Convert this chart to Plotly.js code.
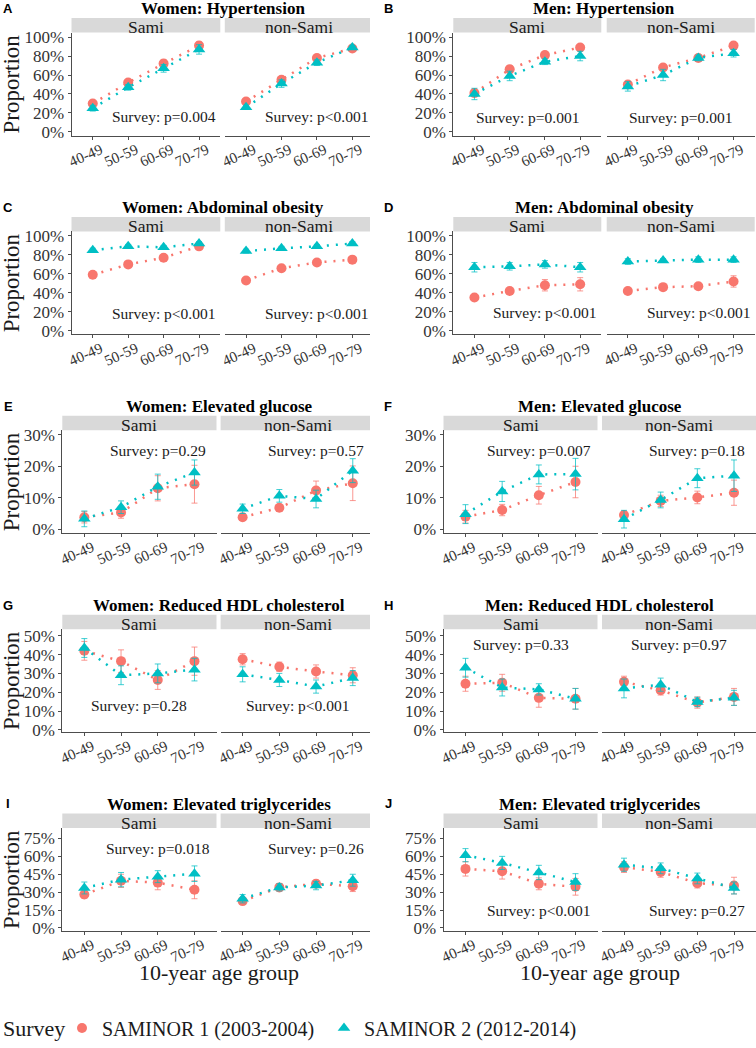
<!DOCTYPE html>
<html><head><meta charset="utf-8">
<script src="https://cdn.plot.ly/plotly-3.0.1.min.js"></script>
<style>html,body{margin:0;padding:0;background:#fff}</style>
</head><body><div id="chart" style="width:756px;height:1048px"></div>
<script>
// ---------------- DATA ----------------
const ageGroups = ['40-49', '50-59', '60-69', '70-79'];
const facetNames = ['Sami', 'non-Sami'];
const surveyNames = ['SAMINOR 1 (2003-2004)', 'SAMINOR 2 (2012-2014)'];
const legendTitle = 'Survey';
const xTitle = '10-year age group';
const yTitle = 'Proportion';
const panelLetters = ['A', 'B', 'C', 'D', 'E', 'F', 'G', 'H', 'I', 'J'];
const panelTitles = ['Women: Hypertension', 'Men: Hypertension', 'Women: Abdominal obesity', 'Men: Abdominal obesity',
  'Women: Elevated glucose', 'Men: Elevated glucose', 'Women: Reduced HDL cholesterol', 'Men: Reduced HDL cholesterol',
  'Women: Elevated triglycerides', 'Men: Elevated triglycerides'];
const pSami = ['p=0.004', 'p=0.001', 'p<0.001', 'p<0.001', 'p=0.29', 'p=0.007', 'p=0.28', 'p=0.33', 'p=0.018', 'p<0.001'];
const pNonSami = ['p<0.001', 'p=0.001', 'p<0.001', 'p<0.001', 'p=0.57', 'p=0.18', 'p<0.001', 'p=0.97', 'p=0.26', 'p=0.27'];
const ticks100 = [0, 20, 40, 60, 80, 100];
const ticks30 = [0, 10, 20, 30];
const ticks50 = [0, 10, 20, 30, 40, 50];
const ticks75 = [0, 15, 30, 45, 60, 75];

// A  Women: Hypertension (%)
const A_sami_s1 = [30, 52, 72, 91], A_sami_s1_err = [3, 3, 4, 4];
const A_sami_s2 = [25, 47, 67, 87], A_sami_s2_err = [3, 3, 4, 5];
const A_non_s1 = [32, 55, 78, 88], A_non_s1_err = [2, 2, 2, 3];
const A_non_s2 = [26, 51, 73, 89], A_non_s2_err = [2, 4, 3, 2];
// B  Men: Hypertension
const B_sami_s1 = [41, 66, 81, 89], B_sami_s1_err = [4, 4, 3, 3];
const B_sami_s2 = [40, 59, 74, 80], B_sami_s2_err = [6, 5, 3, 5];
const B_non_s1 = [50, 68, 78, 91], B_non_s1_err = [2, 2, 2, 2];
const B_non_s2 = [48, 60, 78, 83], B_non_s2_err = [5, 6, 3, 4];
// C  Women: Abdominal obesity
const C_sami_s1 = [59, 70, 77, 89], C_sami_s1_err = [3, 3, 3, 3];
const C_sami_s2 = [85, 89, 88, 92], C_sami_s2_err = [2, 2, 2, 2];
const C_non_s1 = [53, 66, 72, 75], C_non_s1_err = [2, 2, 2, 3];
const C_non_s2 = [84, 87, 89, 92], C_non_s2_err = [2, 2, 2, 2];
// D  Men: Abdominal obesity
const D_sami_s1 = [35, 42, 48, 49], D_sami_s1_err = [3, 3, 6, 7];
const D_sami_s2 = [67, 68, 70, 67], D_sami_s2_err = [5, 4, 4, 5];
const D_non_s1 = [42, 46, 47, 52], D_non_s1_err = [2, 2, 2, 6];
const D_non_s2 = [73, 74, 75, 75], D_non_s2_err = [3, 2, 3, 3];
// E  Women: Elevated glucose
const E_sami_s1 = [3.8, 5.3, 13, 14.3], E_sami_s1_err = [1.8, 1.8, 4, 6];
const E_sami_s2 = [3.3, 7, 13.5, 18], E_sami_s2_err = [2.5, 2, 4, 4];
const E_non_s1 = [3.8, 6.8, 12.3, 14.6], E_non_s1_err = [1, 1, 3, 5.5];
const E_non_s2 = [6.5, 10.6, 9.6, 18.6], E_non_s2_err = [1.5, 2, 2.8, 3.8];
// F  Men: Elevated glucose
const F_sami_s1 = [4, 6.1, 10.8, 15], F_sami_s1_err = [2, 1.8, 2.8, 5];
const F_sami_s2 = [4.8, 12, 17.4, 17.5], F_sami_s2_err = [3, 3.2, 3, 5];
const F_non_s1 = [4.5, 9, 10.1, 11.6], F_non_s1_err = [1.2, 1.8, 2, 4];
const F_non_s2 = [3.2, 9.3, 16.2, 17], F_non_s2_err = [2.8, 2.5, 3, 5];
// G  Women: Reduced HDL cholesterol
const G_sami_s1 = [42, 36.5, 26.5, 36.5], G_sami_s1_err = [5, 6, 5, 7.5];
const G_sami_s2 = [43.5, 29, 30, 32], G_sami_s2_err = [5, 5, 5, 6];
const G_non_s1 = [37.5, 33.5, 31, 29], G_non_s1_err = [3, 2.5, 3.5, 4];
const G_non_s2 = [29.5, 26.5, 23, 27.5], G_non_s2_err = [4, 3.5, 3.5, 4];
// H  Men: Reduced HDL cholesterol
const H_sami_s1 = [24.5, 25, 17, 16.5], H_sami_s1_err = [4, 4.5, 5, 5.5];
const H_sami_s2 = [33, 22.5, 21.5, 16.5], H_sami_s2_err = [5, 4.5, 3, 5.5];
const H_non_s1 = [25.5, 21, 14.5, 17.5], H_non_s1_err = [3, 2.5, 3, 4.5];
const H_non_s2 = [22, 24, 14.8, 17], H_non_s2_err = [5, 3.5, 2.5, 4];
// I  Women: Elevated triglycerides
const I_sami_s1 = [28, 39.5, 38, 32], I_sami_s1_err = [3, 5.5, 6, 7.5];
const I_sami_s2 = [33.5, 40.5, 43, 45.5], I_sami_s2_err = [5, 6, 5, 6.5];
const I_non_s1 = [22.5, 34, 37, 35], I_non_s1_err = [2.5, 3, 3, 4.5];
const I_non_s2 = [24.5, 34, 35.5, 40], I_non_s2_err = [3.5, 3, 3.5, 5];
// J  Men: Elevated triglycerides
const J_sami_s1 = [49.5, 47.5, 37, 34.5], J_sami_s1_err = [6, 6.5, 5, 7];
const J_sami_s2 = [61, 54.5, 46.5, 38.5], J_sami_s2_err = [5.5, 5.5, 6, 7];
const J_non_s1 = [51, 47, 37.5, 35.5], J_non_s1_err = [4.5, 4.5, 4, 7];
const J_non_s2 = [53, 50, 41.5, 33.5], J_non_s2_err = [5.5, 4.5, 4.5, 5];

const panelData = [
  [[A_sami_s1, A_sami_s1_err, A_sami_s2, A_sami_s2_err], [A_non_s1, A_non_s1_err, A_non_s2, A_non_s2_err]],
  [[B_sami_s1, B_sami_s1_err, B_sami_s2, B_sami_s2_err], [B_non_s1, B_non_s1_err, B_non_s2, B_non_s2_err]],
  [[C_sami_s1, C_sami_s1_err, C_sami_s2, C_sami_s2_err], [C_non_s1, C_non_s1_err, C_non_s2, C_non_s2_err]],
  [[D_sami_s1, D_sami_s1_err, D_sami_s2, D_sami_s2_err], [D_non_s1, D_non_s1_err, D_non_s2, D_non_s2_err]],
  [[E_sami_s1, E_sami_s1_err, E_sami_s2, E_sami_s2_err], [E_non_s1, E_non_s1_err, E_non_s2, E_non_s2_err]],
  [[F_sami_s1, F_sami_s1_err, F_sami_s2, F_sami_s2_err], [F_non_s1, F_non_s1_err, F_non_s2, F_non_s2_err]],
  [[G_sami_s1, G_sami_s1_err, G_sami_s2, G_sami_s2_err], [G_non_s1, G_non_s1_err, G_non_s2, G_non_s2_err]],
  [[H_sami_s1, H_sami_s1_err, H_sami_s2, H_sami_s2_err], [H_non_s1, H_non_s1_err, H_non_s2, H_non_s2_err]],
  [[I_sami_s1, I_sami_s1_err, I_sami_s2, I_sami_s2_err], [I_non_s1, I_non_s1_err, I_non_s2, I_non_s2_err]],
  [[J_sami_s1, J_sami_s1_err, J_sami_s2, J_sami_s2_err], [J_non_s1, J_non_s1_err, J_non_s2, J_non_s2_err]]
];
const panelTicks = [ticks100, ticks100, ticks100, ticks100, ticks30, ticks30, ticks50, ticks50, ticks75, ticks75];

// ---------------- STYLE / GEOMETRY ----------------
const W = 756, H = 1048;
const SERIF = '"Liberation Serif", "DejaVu Serif", serif';
const SANS = '"Liberation Sans", Arial, sans-serif';
const COLORS = ['#F8766D', '#00BFC4'];
const ERRCOLORS = ['rgba(248,118,109,0.75)', 'rgba(0,191,196,0.75)'];
const SYMBOLS = ['circle', 'triangle-up'];
const SIZES = [10, 11];
const AXCOL = '#4d4d4d';
const px = x => x / W;
const py = y => 1 - y / H;

const colGeom = {
  L1: { s: [71.5, 220.3], n0: 224.8, clip: 370 },
  L2: { s: [62.3, 216.5], n0: 220.6, clip: 370 },
  R1: { s: [453.3, 601.3], n0: 606.7, clip: 754.7 },
  R2: { s: [443.5, 597.5], n0: 602, clip: 756 }
};
const panelCol = ['L1', 'R1', 'L1', 'R1', 'L2', 'R2', 'L2', 'R2', 'L2', 'R2'];
const panelYRange = [[-3.8, 104.7], [-3.8, 104.7], [-3.8, 104.7], [-3.8, 104.7],
  [-1.26, 31.4], [-1.26, 31.4], [-1.2, 53.5], [-1.2, 53.5], [-2.5, 83.75], [-2.5, 83.75]];
const pLabelPos = [[2, 16], [1.5, 15], [2, 18], [2, 19], [2, 25], [2, 25], [1.5, 13], [1.5, 45.5], [2, 66.7], [2, 14.4]];

const traces = [];
const layout = {
  width: W, height: H, autosize: false,
  margin: { l: 0, r: 0, t: 0, b: 0 },
  paper_bgcolor: '#fff', plot_bgcolor: '#fff',
  font: { family: SERIF, color: '#1a1a1a' },
  showlegend: true,
  legend: {
    orientation: 'h', x: px(62), xanchor: 'left', y: py(1034), yanchor: 'middle',
    font: { family: SERIF, size: 20, color: '#1a1a1a' },
    bgcolor: 'rgba(0,0,0,0)', borderwidth: 0, itemwidth: 30, tracegroupgap: 0,
    entrywidth: 217, entrywidthmode: 'pixels'
  },
  shapes: [], annotations: []
};

layout.annotations.push({
  xref: 'paper', yref: 'paper', x: px(0.5), y: py(1034), text: legendTitle, showarrow: false,
  xanchor: 'left', yanchor: 'middle', font: { family: SERIF, size: 22, color: '#1a1a1a' }
});

for (let p = 0; p < 10; p++) {
  const row = Math.floor(p / 2);
  const g = colGeom[panelCol[p]];
  const unit = (g.s[1] - g.s[0]) / 4.2;
  const fw = g.s[1] - g.s[0];
  const top = 32.8 + 200 * row, bottom = 136.3 + 200 * row, stripTop = 18.2 + 200 * row;
  const facetX = [[g.s[0], g.s[1]], [g.n0, g.clip]];
  for (let f = 0; f < 2; f++) {
    const k = p * 2 + f + 1;
    const xa = k === 1 ? 'x' : 'x' + k;
    const ya = k === 1 ? 'y' : 'y' + k;
    const [x0, x1] = facetX[f];
    layout['xaxis' + (k === 1 ? '' : k)] = {
      domain: [px(x0), px(x1)], anchor: ya, type: 'category',
      categoryorder: 'array', categoryarray: ageGroups,
      range: [-0.6, -0.6 + (x1 - x0) / unit],
      showline: true, linecolor: AXCOL, linewidth: 1, mirror: false,
      ticks: 'outside', ticklen: 3, tickcolor: AXCOL, tickwidth: 1,
      showgrid: false, zeroline: false, tickangle: -24, ticklabelstandoff: -4, ticklabelshift: 8,
      tickfont: { family: SERIF, size: 15, color: '#333' }, fixedrange: true
    };
    layout['yaxis' + (k === 1 ? '' : k)] = {
      domain: [py(bottom), py(top)], anchor: xa,
      range: panelYRange[p], tickmode: 'array', tickvals: panelTicks[p],
      ticktext: panelTicks[p].map(v => v + '%'),
      showline: f === 0, linecolor: AXCOL, linewidth: 1,
      ticks: f === 0 ? 'outside' : '', ticklen: 3, tickcolor: AXCOL, tickwidth: 1,
      showticklabels: f === 0, showgrid: false, zeroline: false,
      tickfont: { family: SERIF, size: 17, color: '#333' }, fixedrange: true
    };
    // strip
    layout.shapes.push({
      type: 'rect', xref: 'paper', yref: 'paper',
      x0: px(x0), x1: px(x1), y0: py(top), y1: py(stripTop),
      fillcolor: '#D9D9D9', line: { width: 0 }, layer: 'below'
    });
    layout.annotations.push({
      xref: 'paper', yref: 'paper', x: px(x0 + fw / 2), y: py(27.6 + 200 * row),
      text: facetNames[f], showarrow: false, xanchor: 'center', yanchor: 'middle',
      font: { family: SERIF, size: 17.5, color: '#1a1a1a' }
    });
    // p-value label
    layout.annotations.push({
      xref: xa, yref: ya, x: pLabelPos[p][0], y: pLabelPos[p][1],
      text: 'Survey: ' + (f === 0 ? pSami[p] : pNonSami[p]), showarrow: false,
      xanchor: 'center', yanchor: 'middle', font: { family: SERIF, size: 15.5, color: '#1a1a1a' }
    });
    // series
    const d = panelData[p][f];
    for (let s = 0; s < 2; s++) {
      traces.push({
        type: 'scatter', mode: 'lines+markers', xaxis: xa, yaxis: ya,
        x: ageGroups, y: d[s * 2], name: surveyNames[s], showlegend: false,
        line: { color: COLORS[s], width: 2.5, dash: '2px,7px' },
        marker: { color: COLORS[s], symbol: SYMBOLS[s], size: SIZES[s], line: { width: 0 } },
        error_y: { type: 'data', array: d[s * 2 + 1], visible: true, color: ERRCOLORS[s], thickness: 1, width: 3 },
        cliponaxis: false, hoverinfo: 'skip'
      });
    }
  }
  // panel title and letter
  const leftEdge = g.s[0];
  const rightEdge = g.n0 + fw;
  layout.annotations.push({
    xref: 'paper', yref: 'paper', x: px((leftEdge + rightEdge) / 2), y: py(9 + 200 * row),
    text: '<b>' + panelTitles[p] + '</b>', showarrow: false, xanchor: 'center', yanchor: 'middle',
    font: { family: SERIF, size: 17, color: '#000' }
  });
  layout.annotations.push({
    xref: 'paper', yref: 'paper', x: px(p % 2 === 0 ? 8.3 : 388), y: py(8.5 + 200 * row),
    text: '<b>' + panelLetters[p] + '</b>', showarrow: false, xanchor: 'center', yanchor: 'middle',
    font: { family: SANS, size: 13, color: '#000' }
  });
  if (p % 2 === 0) {
    layout.annotations.push({
      xref: 'paper', yref: 'paper', x: px(11.5), y: py(84.5 + 200 * row),
      text: yTitle, textangle: -90, showarrow: false, xanchor: 'center', yanchor: 'middle',
      font: { family: SERIF, size: 23, color: '#1a1a1a' }
    });
  }
  if (row === 4) {
    layout.annotations.push({
      xref: 'paper', yref: 'paper', x: px((leftEdge + rightEdge) / 2), y: py(978),
      text: xTitle, showarrow: false, xanchor: 'center', yanchor: 'middle',
      font: { family: SERIF, size: 22, color: '#1a1a1a' }
    });
  }
}

// legend keys (markers only)
for (let s = 0; s < 2; s++) {
  traces.push({
    type: 'scatter', mode: 'markers', x: [null], y: [null], xaxis: 'x', yaxis: 'y',
    name: surveyNames[s], showlegend: true,
    marker: { color: COLORS[s], symbol: SYMBOLS[s], size: SIZES[s] }
  });
}

Plotly.newPlot('chart', traces, layout, { staticPlot: true, displayModeBar: false });
</script></body></html>
